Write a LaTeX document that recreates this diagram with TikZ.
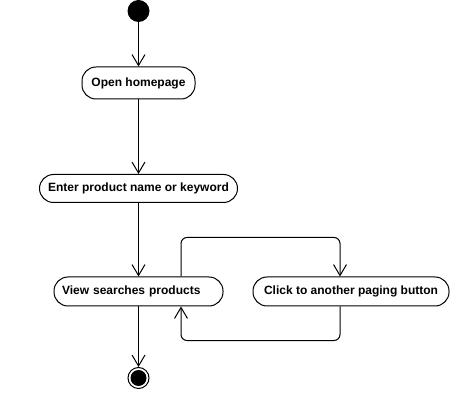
\documentclass[tikz,border=0pt]{standalone}
\usepackage{fontspec}
\setmainfont{Liberation Sans}
\usepackage{tikz}
\usetikzlibrary{arrows.meta}

\begin{document}
\begin{tikzpicture}[x = 1pt, y = -1pt, line width = 1pt,
						activity/.style = {draw, rectangle, rounded corners = 14pt, fill = white, inner sep = 0pt, minimum height = 29pt, font = \bfseries\fontsize{12}{14}\selectfont},
						flow/.style = {-{Straight Barb[length = 11pt, width = 13pt]}}]
						\useasboundingbox (0, 0) rectangle (468, 411);
						\node[circle, fill = black, minimum size = 22pt, inner sep = 0pt] (start) at (138.5, 11) {};
						\node[activity, minimum width = 113pt, minimum height = 32pt] (open) at (138.5, 83) {Open homepage};
						\node[activity, minimum width = 198pt, minimum height = 28pt] (enter) at (138.5, 188.5) {Enter product name or keyword};
						\node[activity, align = left, text width = 153pt, inner xsep = 8pt] (view) at (138.5, 291.5) {View searches products};
						\node[activity, minimum width = 196pt] (click) at (351, 291.5) {Click to another paging button};
						\node[circle, draw, minimum size = 21pt, inner sep = 0pt] (stop) at (138.5, 378) {};
						\fill (stop) circle (8);
						\draw[flow] (start) -- (open);
						\draw[flow] (open) -- (enter);
						\draw[flow] (enter) -- (view);
						\draw[flow] (view) -- (stop);
						\draw[flow, rounded corners = 6pt] ([xshift = 42.5pt]view.north) -- ++(0, -39) -| ([xshift = -11pt]click.north);
						\draw[flow, rounded corners = 6pt] ([xshift = -11pt]click.south) -- ++(0, 34) -| ([xshift = 42.5pt]view.south);
					\end{tikzpicture}
\end{document}
